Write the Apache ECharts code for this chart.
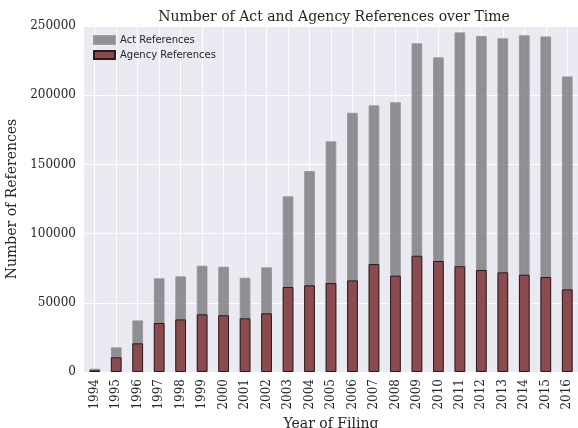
<!DOCTYPE html>
<html>
<head>
<meta charset="utf-8">
<script src="https://cdn.jsdelivr.net/npm/echarts@6/dist/echarts.min.js"></script>
<style>
	html,body{margin:0;padding:0;background:#fff;}
	#chart{width:578px;height:428px;}
</style>
</head>
<body>
<div id="chart"></div>
<script>
	// 年份
	var years = ['1994','1995','1996','1997','1998','1999','2000','2001','2002','2003','2004','2005',
		'2006','2007','2008','2009','2010','2011','2012','2013','2014','2015','2016'];
	// Act References
	var actRefs = [2400,17800,37300,67700,69100,76800,76100,68100,75600,126900,145200,166700,
		187300,192700,194900,237500,227400,245400,242800,241100,243300,242500,213600];
	// Agency References
	var agencyRefs = [1200,10600,20700,35400,38000,41700,41000,38800,42400,61400,62600,64300,
		66200,78000,69600,84000,80200,76400,73700,72000,70300,68600,59700];
	var yTicks = {min:0, max:250000, interval:50000};

	var serif = 'DejaVu Serif';
	var chart = echarts.init(document.getElementById('chart'));
	var option = {
		backgroundColor:'#ffffff',
		animation:false,
		title:{
			text:'Number of Act and Agency References over Time',
			left:329,
			textAlign:'center',
			top:5,
			textStyle:{
				fontFamily:serif,
				fontSize:14,
				fontWeight:'normal',
				color:'#262626'
			}
		},
		legend:{
			orient:'vertical',
			left:88,
			top:30,
			itemWidth:21,
			itemHeight:8,
			itemGap:5,
			icon:'rect',
			textStyle:{
				fontFamily:'DejaVu Sans',
				fontSize:10,
				color:'#262626'
			},
			data:['Act References','Agency References']
		},
		grid:{
			left:84,
			right:0,
			top:26,
			bottom:56,
			outerBoundsMode:'none',
			containLabel:false,
			show:true,
			backgroundColor:'#EAEAF2',
			borderWidth:0
		},
		xAxis:{
			type:'category',
			data:years,
			name:'Year of Filing',
			nameLocation:'middle',
			nameGap:44,
			nameTextStyle:{fontFamily:serif,fontSize:14,color:'#262626'},
			axisLine:{show:false},
			axisTick:{show:false},
			axisLabel:{
				rotate:90,
				margin:7,
				fontFamily:serif,
				fontSize:12,
				color:'#262626'
			},
			splitLine:{
				show:true,
				alignWithLabel:true,
				lineStyle:{color:'#ffffff',width:1}
			}
		},
		yAxis:{
			type:'value',
			min:yTicks.min,
			max:yTicks.max,
			interval:yTicks.interval,
			name:'Number of References',
			nameLocation:'middle',
			nameGap:61,
			nameTextStyle:{fontFamily:serif,fontSize:14,color:'#262626'},
			axisLine:{show:false},
			axisTick:{show:false},
			axisLabel:{
				margin:8,
				fontFamily:serif,
				fontSize:12,
				color:'#262626',
				formatter:function(v){
					return String(v);
				}
			},
			splitLine:{
				show:true,
				lineStyle:{color:'#ffffff',width:1}
			}
		},
		series:[{
			name:'Act References',
			type:'bar',
			data:actRefs,
			barWidth:'50%',
			barGap:'-100%',
			itemStyle:{
				color:'rgba(120,120,122,0.8)',
				borderColor:'rgba(150,150,152,0.9)',
				borderWidth:1
			}
		},{
			name:'Agency References',
			type:'bar',
			data:agencyRefs,
			barWidth:'50%',
			barGap:'-100%',
			itemStyle:{
				color:'#8b4a4e',
				borderColor:'#2b1b1c',
				borderWidth:1
			}
		}]
	};
	chart.setOption(option);
</script>
</body>
</html>
